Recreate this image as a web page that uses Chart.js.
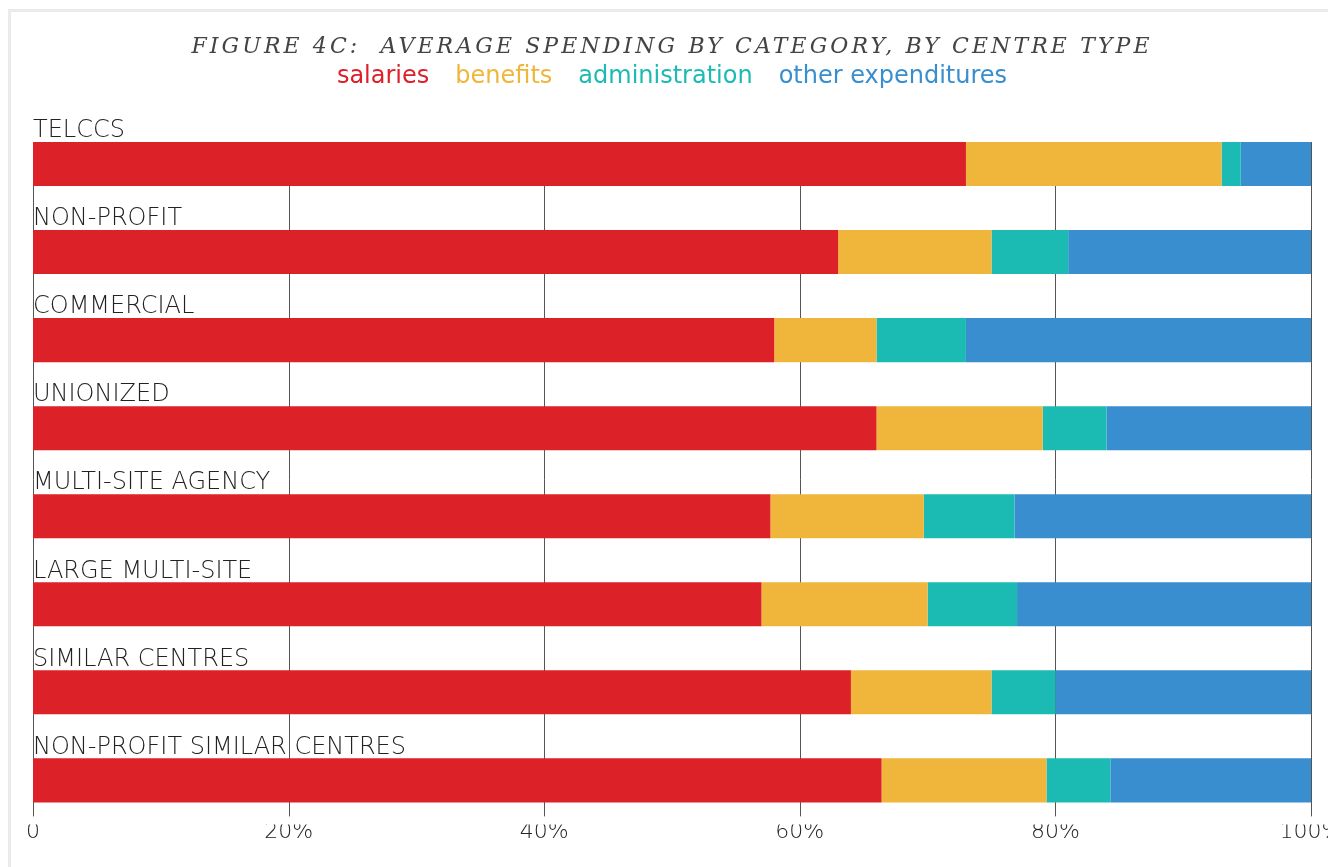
<!DOCTYPE html>
<html>
<head>
<meta charset="utf-8">
<script src="https://cdn.jsdelivr.net/npm/chart.js@4.4.1/dist/chart.umd.min.js"></script>
<style>
    html, body { margin: 0; padding: 0; background: #fff; }
    .pg-holder { position: relative; width: 1328px; height: 867px; overflow: hidden; }
    .pg-frame { position: absolute; left: 8px; top: 9px; right: 0; bottom: 0; border-left: 3px solid #ebebeb; border-top: 3px solid #ebebeb; }
    canvas { position: absolute; left: 0; top: 0; }
</style>
</head>
<body>
<div class="pg-holder">
    <div class="pg-frame"></div>
    <canvas id="spendingByCentre" width="1328" height="867"></canvas>
</div>
<script>
// данные
const figureTitle = "FIGURE 4C:  AVERAGE SPENDING BY CATEGORY, BY CENTRE TYPE";
const centreTypes = ["TELCCS", "NON-PROFIT", "COMMERCIAL", "UNIONIZED", "MULTI-SITE AGENCY", "LARGE MULTI-SITE", "SIMILAR CENTRES", "NON-PROFIT SIMILAR CENTRES"];
const categories = ["salaries", "benefits", "administration", "other expenditures"];
const salaries = [73, 63, 58, 66, 57.7, 57, 64, 66.4];
const benefits = [20, 12, 8, 13, 12, 13, 11, 12.9];
const administration = [1.5, 6, 7, 5, 7.1, 7, 5, 5];
const otherExpenditures = [5.5, 19, 27, 16, 23.2, 23, 20, 15.7];
const tickValues = [0, 20, 40, 60, 80, 100];
const tickLabels = ["0", "20%", "40%", "60%", "80%", "100%"];

const colors = ["#dc2129", "#f0b63b", "#1bbbb3", "#388ece"];
const series = [salaries, benefits, administration, otherExpenditures];
const labelFont = "'DejaVu Sans', 'Noto Sans', sans-serif";

//заголовок с разрядкой
const titlePlugin = {
    id: "figureTitle",
    afterDraw: (chart) => {
        const {ctx, chartArea} = chart;
        ctx.save();
        ctx.font = "italic 22px 'DejaVu Serif', serif";
        ctx.letterSpacing = "3.1px";
        ctx.fillStyle = "#444";
        ctx.textAlign = "center";
        ctx.textBaseline = "middle";
        ctx.fillText(figureTitle, (chartArea.left + chartArea.right) / 2, 47);
        ctx.restore();
    }
}

//вертикальные линии сетки только между полосами
const gridPlugin = {
    id: "gridLines",
    beforeDatasetsDraw: (chart) => {
        const {ctx, scales: {x}} = chart;
        const bars = chart.getDatasetMeta(0).data;
        const first = bars[0];
        const last = bars[bars.length - 1];
        const top = first.y - first.height / 2;
        const bottom = last.y + last.height / 2 + 14;
        ctx.save();
        ctx.strokeStyle = "#555";
        ctx.lineWidth = 1;
        x.ticks.forEach(t => {
            const px = Math.round(x.getPixelForValue(t.value)) + 0.5;
            ctx.beginPath();
            ctx.moveTo(px, top);
            ctx.lineTo(px, bottom);
            ctx.stroke();
        });
        ctx.restore();
    }
}

const ctx = document.getElementById("spendingByCentre").getContext("2d");
new Chart(ctx, {
    type: "bar",
    data: {
        labels: centreTypes,
        datasets: categories.map((name, i) => ({
            label: name,
            data: series[i],
            backgroundColor: colors[i],
            borderWidth: 0,
            barPercentage: 1,
            categoryPercentage: 0.5
        }))
    },
    options: {
        indexAxis: "y",
        responsive: false,
        animation: false,
        layout: {
            padding: {top: 18, left: 33, right: 17, bottom: 26.6}
        },
        plugins: {
            title: {display: false},
            tooltip: {enabled: false},
            legend: {
                position: "top",
                labels: {
                    // без цветных квадратиков: только цветной текст
                    boxWidth: -12,
                    boxHeight: 66,
                    padding: 26,
                    font: {family: labelFont, size: 24},
                    generateLabels: (chart) => chart.data.datasets.map((ds, i) => ({
                        text: ds.label,
                        fillStyle: "rgba(0,0,0,0)",
                        strokeStyle: "rgba(0,0,0,0)",
                        lineWidth: 0,
                        fontColor: colors[i],
                        hidden: false,
                        datasetIndex: i
                    }))
                }
            }
        },
        scales: {
            x: {
                stacked: true,
                min: 0,
                max: 100,
                grid: {display: false, drawTicks: false},
                border: {display: false},
                afterBuildTicks: (scale) => {
                    scale.ticks = tickValues.map(v => ({value: v}));
                },
                afterFit: (scale) => {
                    scale.paddingLeft = 0;
                    scale.paddingRight = 0;
                },
                ticks: {
                    padding: -3,
                    color: "#222",
                    maxRotation: 0,
                    autoSkip: false,
                    font: {family: labelFont, size: 22, weight: 200, lineHeight: 1},
                    callback: (v) => tickLabels[tickValues.indexOf(v)]
                }
            },
            y: {
                stacked: true,
                grid: {display: false, drawTicks: false},
                border: {display: false},
                afterFit: (scale) => {
                    scale.paddingTop = 0;
                    scale.paddingBottom = 0;
                },
                ticks: {
                    mirror: true,
                    padding: 0,
                    labelOffset: -33,
                    color: "#222",
                    font: {family: labelFont, size: 24, weight: 200}
                }
            }
        }
    },
    plugins: [titlePlugin, gridPlugin]
});
</script>
</body>
</html>
